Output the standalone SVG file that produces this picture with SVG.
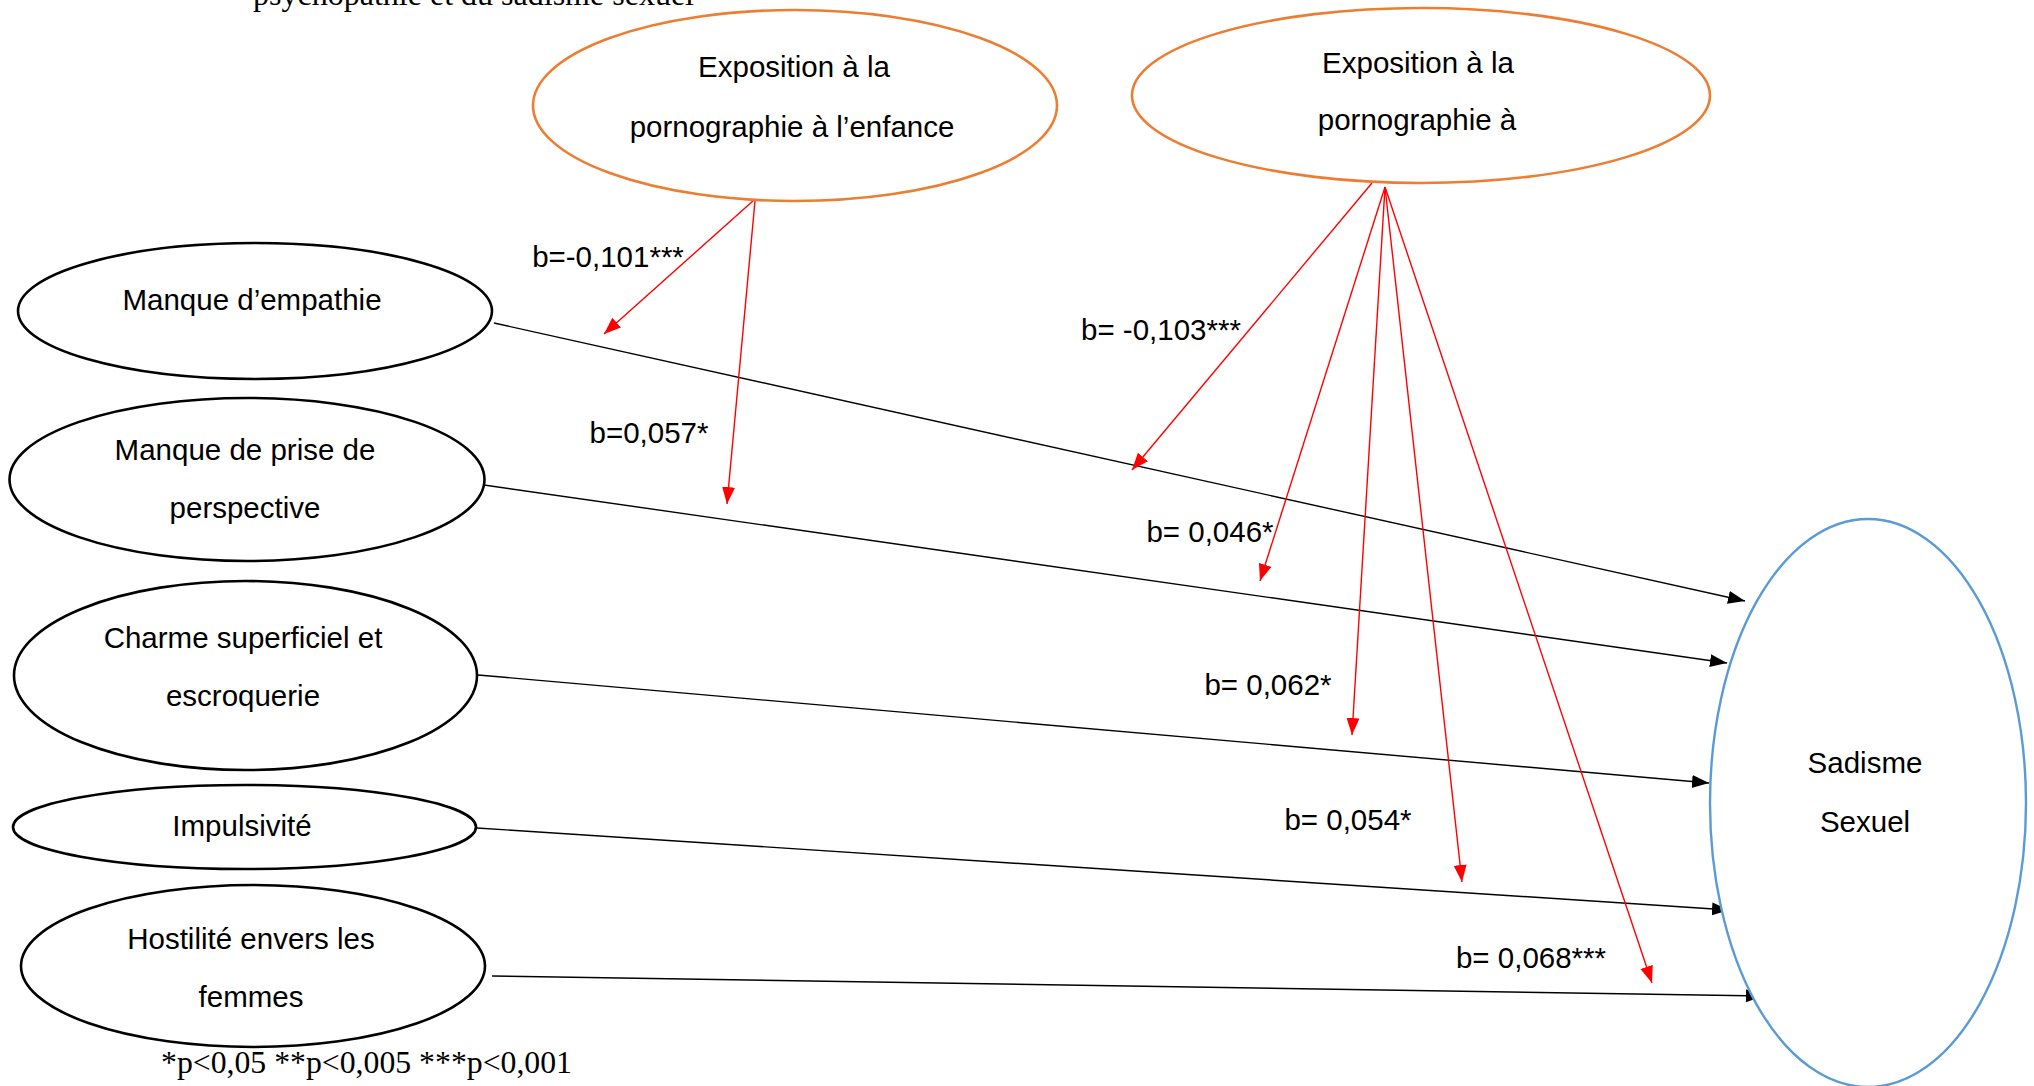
<svg xmlns="http://www.w3.org/2000/svg" width="2034" height="1086" viewBox="0 0 2034 1086">
<defs>
<style>
.lbl{font-family:"Liberation Sans",Arial,sans-serif;font-size:29.5px;fill:#000;text-anchor:middle}
.tnr{font-family:"Liberation Serif","Times New Roman",serif;fill:#000}
.blk{fill:#fff;stroke:#000;stroke-width:2.6}
.org{fill:#fff;stroke:#ED7D31;stroke-width:2.6}
.blu{fill:#fff;stroke:#5B9BD5;stroke-width:2.4}
.cb{stroke:#000;stroke-width:1.4;fill:none}
.cr{stroke:#FF0000;stroke-width:1.4;fill:none}
</style>
<marker id="ab" markerUnits="userSpaceOnUse" markerWidth="18" markerHeight="14" refX="17" refY="6.5" orient="auto">
<path d="M0,0 L17,6.5 L0,13 z" fill="#000"/>
</marker>
<marker id="ar" markerUnits="userSpaceOnUse" markerWidth="18" markerHeight="14" refX="17" refY="6.5" orient="auto">
<path d="M0,0 L17,6.5 L0,13 z" fill="#FF0000"/>
</marker>
</defs>
<rect width="2034" height="1086" fill="#fff"/>
<text class="tnr" x="253" y="5" font-size="32" textLength="441" lengthAdjust="spacingAndGlyphs">psychopathie et du sadisme sexuel</text>

<g id="connectors">
<line class="cb" x1="494" y1="323" x2="1745" y2="601" marker-end="url(#ab)"/>
<line class="cb" x1="477" y1="484" x2="1727" y2="663" marker-end="url(#ab)"/>
<line class="cb" x1="478" y1="675" x2="1709" y2="783" marker-end="url(#ab)"/>
<line class="cb" x1="477" y1="828" x2="1729" y2="910" marker-end="url(#ab)"/>
<line class="cb" x1="492" y1="976" x2="1763" y2="996" marker-end="url(#ab)"/>
<line class="cr" x1="754" y1="200" x2="604" y2="334" marker-end="url(#ar)"/>
<line class="cr" x1="755" y1="201" x2="727" y2="504" marker-end="url(#ar)"/>
<line class="cr" x1="1372" y1="183" x2="1132" y2="470" marker-end="url(#ar)"/>
<line class="cr" x1="1385" y1="187" x2="1260" y2="581" marker-end="url(#ar)"/>
<line class="cr" x1="1385" y1="187" x2="1352" y2="735" marker-end="url(#ar)"/>
<line class="cr" x1="1385" y1="187" x2="1462" y2="882" marker-end="url(#ar)"/>
<line class="cr" x1="1385" y1="187" x2="1652" y2="983" marker-end="url(#ar)"/>
<text class="lbl" x="608" y="267">b=-0,101***</text>
<text class="lbl" x="1161" y="340">b= -0,103***</text>
<text class="lbl" x="649" y="443">b=0,057*</text>
<text class="lbl" x="1210" y="542">b= 0,046*</text>
<text class="lbl" x="1268" y="695">b= 0,062*</text>
<text class="lbl" x="1348" y="830">b= 0,054*</text>
<text class="lbl" x="1531" y="968">b= 0,068***</text>
</g>

<g id="expo-enfance">
<ellipse class="org" cx="795" cy="105.5" rx="262" ry="95.5"/>
<text class="lbl" x="794" y="77">Exposition à la</text>
<text class="lbl" x="792" y="137">pornographie à l’enfance</text>
</g>
<g id="expo-adulte">
<ellipse class="org" cx="1421" cy="95.5" rx="289" ry="87.5"/>
<text class="lbl" x="1418" y="73">Exposition à la</text>
<text class="lbl" x="1417" y="130">pornographie à</text>
</g>
<g id="empathie">
<ellipse class="blk" cx="255" cy="311" rx="237" ry="68"/>
<text class="lbl" x="252" y="310">Manque d’empathie</text>
</g>
<g id="perspective">
<ellipse class="blk" cx="247" cy="479.5" rx="237.5" ry="81.5"/>
<text class="lbl" x="245" y="460">Manque de prise de</text>
<text class="lbl" x="245" y="518">perspective</text>
</g>
<g id="charme">
<ellipse class="blk" cx="245.5" cy="675.5" rx="231.5" ry="94.5"/>
<text class="lbl" x="243" y="648">Charme superficiel et</text>
<text class="lbl" x="243" y="706">escroquerie</text>
</g>
<g id="impulsivite">
<ellipse class="blk" cx="244.5" cy="827" rx="231.5" ry="42"/>
<text class="lbl" x="242" y="836">Impulsivité</text>
</g>
<g id="hostilite">
<ellipse class="blk" cx="253" cy="966" rx="232" ry="81"/>
<text class="lbl" x="251" y="949">Hostilité envers les</text>
<text class="lbl" x="251" y="1007">femmes</text>
</g>
<g id="sadisme">
<ellipse class="blu" cx="1868" cy="803" rx="158" ry="284"/>
<text class="lbl" x="1865" y="773">Sadisme</text>
<text class="lbl" x="1865" y="832">Sexuel</text>
</g>
<text class="tnr" x="161" y="1073" font-size="31" textLength="411" lengthAdjust="spacingAndGlyphs">*p&lt;0,05 **p&lt;0,005 ***p&lt;0,001</text>
</svg>
